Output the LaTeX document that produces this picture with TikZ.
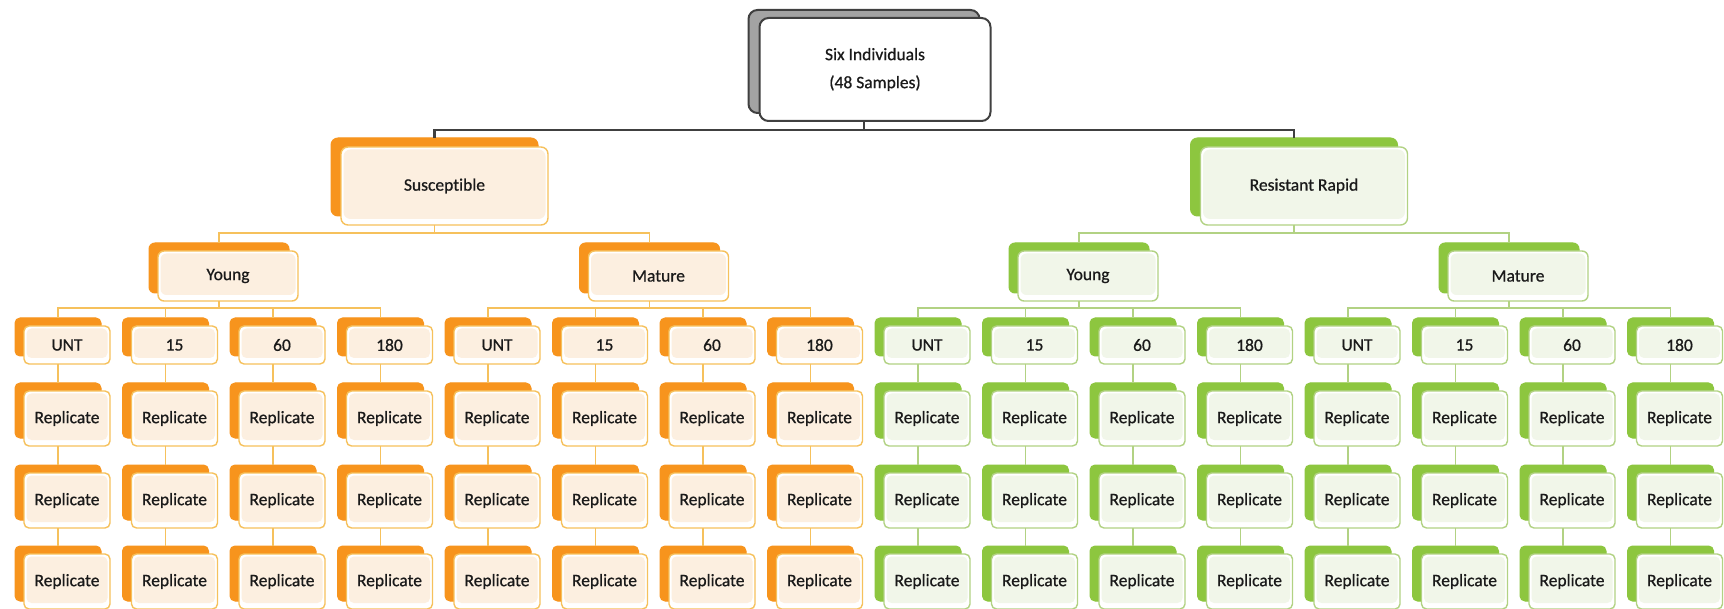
\documentclass[tikz,border=0pt]{standalone}
\usepackage{fontspec}
\setmainfont{Carlito}[Ligatures=NoCommon]
\newfontfamily\boxfont{Carlito}[Ligatures=NoCommon, FakeBold=0.7]
\usetikzlibrary{calc}
\definecolor{orBack}{HTML}{F7941D}
\definecolor{orFill}{HTML}{FCEFE0}
\definecolor{orLine}{HTML}{F6C15C}
\definecolor{grBack}{HTML}{8DC63F}
\definecolor{grFill}{HTML}{F1F6E9}
\definecolor{grLine}{HTML}{B2D283}
\definecolor{topLine}{HTML}{404040}
\definecolor{topBack}{HTML}{A3A3A3}
\definecolor{txt}{HTML}{1A1A1A}
\tikzset{
  boxbase/.style={rectangle, inner sep=0pt, outer sep=0pt, rounded corners=5pt,
    font=\boxfont\fontsize{17.5}{28}\selectfont, text=txt},
  orback/.style={boxbase, fill=orBack, draw=orBack, line width=1pt},
  grback/.style={boxbase, fill=grBack, draw=grBack, line width=1pt},
  orfront/.style={boxbase, fill=white, draw=orLine, line width=1.4pt,
    path picture={\fill[orFill] ([xshift=2.5pt,yshift=-2.5pt]path picture bounding box.north west)
      rectangle ([xshift=-2.5pt,yshift=6pt]path picture bounding box.south east);}},
  grfront/.style={boxbase, fill=white, draw=grLine, line width=1.4pt,
    path picture={\fill[grFill] ([xshift=2.5pt,yshift=-2.5pt]path picture bounding box.north west)
      rectangle ([xshift=-2.5pt,yshift=6pt]path picture bounding box.south east);}},
  topback/.style={boxbase, fill=topBack, draw=topLine, line width=2pt, rounded corners=9pt},
  topfront/.style={boxbase, fill=white, draw=topLine, line width=2pt, rounded corners=9pt, align=center},
  orconn/.style={draw=orLine, line width=1.8pt},
  grconn/.style={draw=grLine, line width=1.8pt},
  topconn/.style={draw=topLine, line width=2.2pt},
  wh/.style 2 args={minimum width=#1pt, minimum height=#2pt},
}
\begin{document}
\begin{tikzpicture}[x=1pt,y=-1pt]
\useasboundingbox[fill=white] (0,0) rectangle (1724,609);

% top
\node[topback, wh={231}{103}] (T-b) at (864,61.5) {};
\node[topfront, wh={231}{103}] (T) at (875,69.5) {Six Individuals\\(48 Samples)};

% level 1
\foreach \n/\cx/\clr/\t in {S/434.5/or/Susceptible, R/1294/gr/Resistant Rapid}{
  \node[\clr back, wh={207}{78}, rounded corners=7pt] (\n-b) at (\cx,177) {};
  \node[\clr front, wh={207}{78}, rounded corners=7pt] (\n) at ({\cx+10},186) {\t};
}

% level 2
\foreach \g/\cx/\clr/\t in {0/219/or/Young, 1/649.5/or/Mature, 2/1079/gr/Young, 3/1509/gr/Mature}{
  \node[\clr back, wh={140}{50}, rounded corners=6pt] (M\g-b) at (\cx,268) {};
  \node[\clr front, wh={140}{50}, rounded corners=6pt] (M\g) at ({\cx+9},276) {\t};
}

% leaves
\foreach \g in {0,...,3}{
  \foreach \j/\t in {0/UNT,1/15,2/60,3/180}{
    \pgfmathtruncatemacro\i{4*\g+\j}
    \pgfmathsetmacro\cx{58+107.5*\i}
    \ifnum\g<2 \def\clr{or}\else\def\clr{gr}\fi
    \node[\clr back, wh={86}{38}] (L0-\i-b) at (\cx,337) {};
    \node[\clr front, wh={86}{38}] (L0-\i) at ({\cx+9},345) {\t};
    \foreach \r/\bt in {1/383,2/465,3/546}{
      \node[\clr back, wh={86}{55}] (L\r-\i-b) at (\cx,{\bt+27.5}) {};
      \node[\clr front, wh={86}{55}] (L\r-\i) at ({\cx+9},{\bt+35.5}) {Replicate};
    }
  }
}

% connectors: top -> level 1
\draw[topconn] (T.south -| T-b.center) -- ++(0,9) coordinate (jT);
\draw[topconn] (jT) -| (S-b.north);
\draw[topconn] (jT) -| (R-b.north);

% level 1 -> level 2
\foreach \n/\clr/\a/\b in {S/or/0/1, R/gr/2/3}{
  \draw[\clr conn] (\n.south -| \n-b.center) -- ++(0,8) coordinate (j\n);
  \draw[\clr conn] (j\n) -| (M\a-b.north);
  \draw[\clr conn] (j\n) -| (M\b-b.north);
}

% level 2 -> leaves, and between leaf rows
\foreach \g in {0,...,3}{
  \ifnum\g<2 \def\clr{or}\else\def\clr{gr}\fi
  \draw[\clr conn] (M\g.south -| M\g-b.center) -- ++(0,7) coordinate (jM\g);
  \foreach \j in {0,...,3}{
    \pgfmathtruncatemacro\i{4*\g+\j}
    \draw[\clr conn] (jM\g) -| (L0-\i-b.north);
    \foreach \r/\s in {0/1,1/2,2/3}{
      \draw[\clr conn] (L\r-\i.south -| L\r-\i-b.center) -- (L\s-\i-b.north);
    }
  }
}
\end{tikzpicture}
\end{document}
